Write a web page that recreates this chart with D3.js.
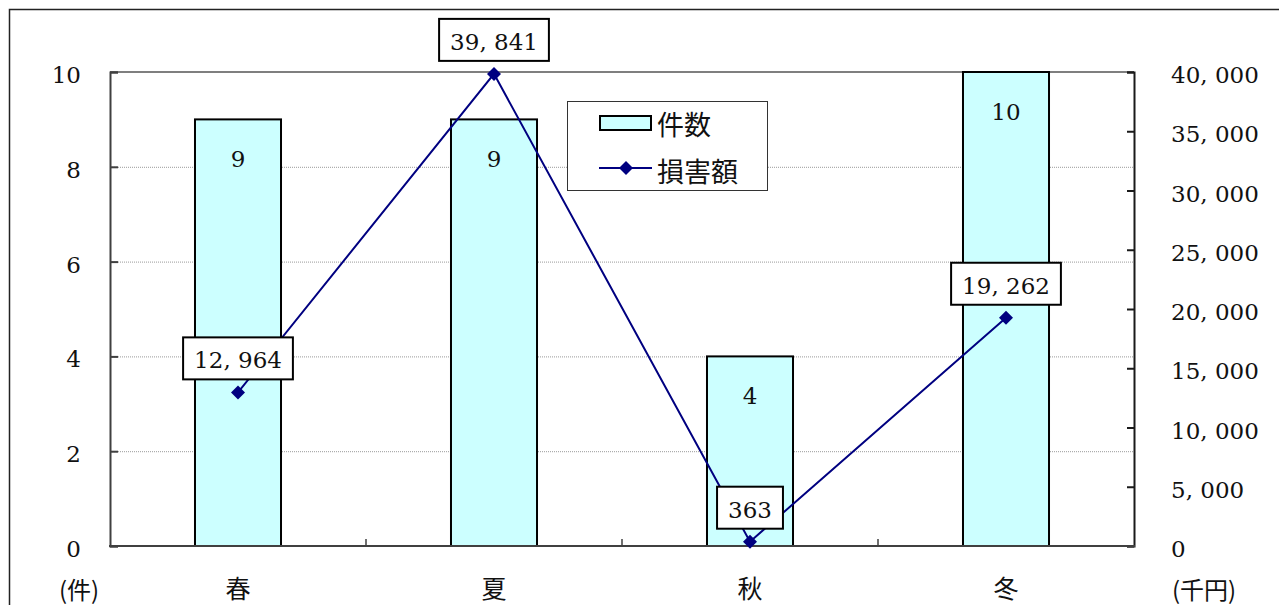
<!DOCTYPE html>
<html>
<head>
<meta charset="utf-8">
<script src="https://cdn.jsdelivr.net/npm/d3@7"></script>
<style>
  html, body { margin: 0; padding: 0; background: #fff; }
  svg { display: block; }
  .num { font-family: "DejaVu Serif", serif; }
  .cjk { font-family: "Noto Sans CJK JP", "Noto Sans CJK SC", sans-serif; }
</style>
</head>
<body>
<svg id="chart" width="1279" height="605"></svg>
<script>
// Seasonal counts (bars, left axis) and damage amounts in thousand yen (line, right axis)
const seasons = ["春", "夏", "秋", "冬"];
const counts = [9, 9, 4, 10];
const damages = [12964, 39841, 363, 19262];
const leftTicks = [0, 2, 4, 6, 8, 10];
const rightTicks = [0, 5000, 10000, 15000, 20000, 25000, 30000, 35000, 40000];
const legendLabels = ["件数", "損害額"];

const W = 1279, H = 605;
const plot = { left: 110, right: 1134, top: 72, bottom: 546 };

const svg = d3.select("#chart");

// outer frame
svg.append("rect")
  .attr("x", 9.5).attr("y", 9.5)
  .attr("width", W + 20).attr("height", H + 20)
  .attr("fill", "none").attr("stroke", "#222").attr("stroke-width", 1.5);

const x = d3.scaleBand()
  .domain(seasons)
  .range([plot.left, plot.right])
  .paddingInner(0.664)
  .paddingOuter(0.332);

const yL = d3.scaleLinear().domain([0, 10]).range([plot.bottom, plot.top]);
const yR = d3.scaleLinear().domain([0, 40000]).range([plot.bottom, plot.top]);

// gridlines
svg.append("g").selectAll("line")
  .data(leftTicks.filter(v => v > 0 && v < 10))
  .join("line")
  .attr("x1", plot.left).attr("x2", plot.right)
  .attr("y1", d => yL(d) + 0.5).attr("y2", d => yL(d) + 0.5)
  .attr("stroke", "#9a9a9a").attr("stroke-width", 1)
  .attr("stroke-dasharray", "1,1");

// top border of the plot area
svg.append("line")
  .attr("x1", plot.left).attr("x2", plot.right)
  .attr("y1", plot.top).attr("y2", plot.top)
  .attr("stroke", "#7f7f7f").attr("stroke-width", 2);

// bars
svg.append("g").selectAll("rect")
  .data(counts)
  .join("rect")
  .attr("x", (d, i) => x(seasons[i]))
  .attr("y", d => yL(d))
  .attr("width", x.bandwidth())
  .attr("height", d => yL(0) - yL(d))
  .attr("fill", "#ccffff")
  .attr("stroke", "#000").attr("stroke-width", 2);

// bar value labels
svg.append("g").selectAll("text")
  .data(counts)
  .join("text")
  .attr("class", "num")
  .attr("x", (d, i) => x(seasons[i]) + x.bandwidth() / 2)
  .attr("y", d => yL(d) + 40)
  .attr("text-anchor", "middle")
  .attr("dominant-baseline", "central")
  .attr("font-size", 23)
  .attr("fill", "#111")
  .text(d => d);

// left axis
const axisL = d3.axisLeft(yL).tickValues(leftTicks).tickSize(-8).tickFormat("");
const gL = svg.append("g").attr("transform", `translate(${plot.left},0)`).call(axisL);
gL.select(".domain").attr("stroke", "#404040").attr("stroke-width", 2);
gL.selectAll(".tick line").attr("stroke", "#404040").attr("stroke-width", 2);

svg.append("g").selectAll("text")
  .data(leftTicks)
  .join("text")
  .attr("class", "num")
  .attr("x", 81)
  .attr("y", d => yL(d) + 3)
  .attr("text-anchor", "end")
  .attr("dominant-baseline", "central")
  .attr("font-size", 23)
  .attr("fill", "#111")
  .text(d => d);

// right axis
const axisR = d3.axisRight(yR).tickValues(rightTicks).tickSize(-7).tickFormat("");
const gR = svg.append("g").attr("transform", `translate(${plot.right},0)`).call(axisR);
gR.select(".domain").attr("stroke", "#1a1a1a").attr("stroke-width", 2);
gR.selectAll(".tick line").attr("stroke", "#1a1a1a").attr("stroke-width", 2);

const fmt = v => d3.format(",")(v).replace(/,/g, ", ");

svg.append("g").selectAll("text")
  .data(rightTicks)
  .join("text")
  .attr("class", "num")
  .attr("x", 1171)
  .attr("y", d => yR(d) + 3)
  .attr("text-anchor", "start")
  .attr("dominant-baseline", "central")
  .attr("font-size", 23)
  .attr("fill", "#111")
  .attr("xml:space", "preserve")
  .text(d => fmt(d));

// bottom axis with boundary ticks between categories
const bounds = d3.range(seasons.length + 1).map(i => plot.left + i * x.step());
svg.append("g").selectAll("line")
  .data(bounds.slice(1, -1))
  .join("line")
  .attr("x1", d => d).attr("x2", d => d)
  .attr("y1", plot.bottom).attr("y2", plot.bottom - 7)
  .attr("stroke", "#404040").attr("stroke-width", 1.5);
svg.append("line")
  .attr("x1", plot.left - 1).attr("x2", plot.right + 1)
  .attr("y1", plot.bottom).attr("y2", plot.bottom)
  .attr("stroke", "#404040").attr("stroke-width", 2);

// category labels
svg.append("g").selectAll("text")
  .data(seasons)
  .join("text")
  .attr("class", "cjk")
  .attr("x", d => x(d) + x.bandwidth() / 2)
  .attr("y", 587)
  .attr("text-anchor", "middle")
  .attr("dominant-baseline", "central")
  .attr("font-size", 25)
  .attr("fill", "#111")
  .text(d => d);

// axis unit labels
svg.append("text").attr("class", "cjk")
  .attr("x", 79).attr("y", 588)
  .attr("text-anchor", "middle").attr("dominant-baseline", "central")
  .attr("font-size", 24).attr("fill", "#111")
  .text("(件)");
svg.append("text").attr("class", "cjk")
  .attr("x", 1204).attr("y", 588)
  .attr("text-anchor", "middle").attr("dominant-baseline", "central")
  .attr("font-size", 24).attr("fill", "#111")
  .text("(千円)");

// damage line
const cx = (d, i) => x(seasons[i]) + x.bandwidth() / 2;
const line = d3.line().x((d, i) => cx(d, i)).y(d => yR(d));
svg.append("path")
  .datum(damages)
  .attr("d", line)
  .attr("fill", "none")
  .attr("stroke", "#000080").attr("stroke-width", 2);

// square diamond marker
const diamondPath = "M0,-7L7,0L0,7L-7,0Z";
svg.append("g").selectAll("path")
  .data(damages)
  .join("path")
  .attr("transform", (d, i) => `translate(${cx(d, i)},${yR(d)})`)
  .attr("d", diamondPath)
  .attr("fill", "#000080");

// boxed value labels for the line
const lg = svg.append("g").selectAll("g")
  .data(damages)
  .join("g")
  .attr("transform", (d, i) => `translate(${cx(d, i)},${yR(d) - 34})`);
lg.append("rect");
lg.append("text")
  .attr("class", "num")
  .attr("text-anchor", "middle")
  .attr("dominant-baseline", "central")
  .attr("y", 2)
  .attr("font-size", 23)
  .attr("fill", "#111")
  .attr("xml:space", "preserve")
  .text(d => fmt(d));
lg.each(function () {
  const g = d3.select(this);
  const w = g.select("text").node().getComputedTextLength() + 22;
  g.select("rect")
    .attr("x", -w / 2).attr("y", -21)
    .attr("width", w).attr("height", 42)
    .attr("fill", "#fff").attr("stroke", "#000").attr("stroke-width", 2);
});

// legend
const leg = svg.append("g");
leg.append("rect")
  .attr("x", 567.5).attr("y", 101.5).attr("width", 200).attr("height", 89)
  .attr("fill", "#fff").attr("stroke", "#333").attr("stroke-width", 1);
leg.append("rect")
  .attr("x", 600).attr("y", 116).attr("width", 51).attr("height", 14)
  .attr("fill", "#ccffff").attr("stroke", "#000").attr("stroke-width", 2);
leg.append("line")
  .attr("x1", 599).attr("x2", 652).attr("y1", 168).attr("y2", 168)
  .attr("stroke", "#000080").attr("stroke-width", 2);
leg.append("path")
  .attr("transform", "translate(626,168)")
  .attr("d", diamondPath)
  .attr("fill", "#000080");
leg.selectAll("text.leg")
  .data(legendLabels)
  .join("text")
  .attr("class", "cjk leg")
  .attr("x", 657)
  .attr("y", (d, i) => 123 + i * 47)
  .attr("dominant-baseline", "central")
  .attr("font-size", 27)
  .attr("fill", "#111")
  .text(d => d);
</script>
</body>
</html>
